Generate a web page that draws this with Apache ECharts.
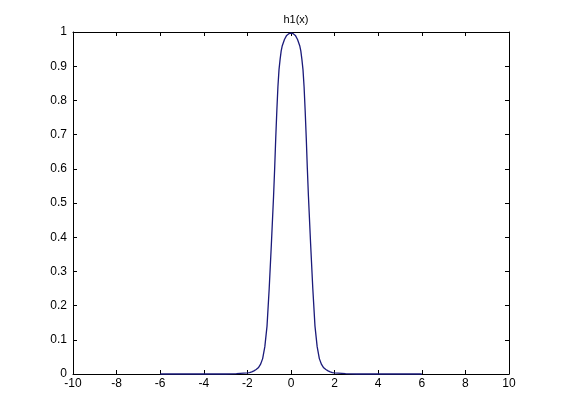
<!DOCTYPE html>
<html>
<head>
<meta charset="utf-8">
<script src="https://cdn.jsdelivr.net/npm/echarts@6/dist/echarts.min.js"></script>
<style>
  html, body { margin: 0; padding: 0; background: #fff; }
  #main { width: 561px; height: 420px; }
</style>
</head>
<body>
<div id="main"></div>
<script>
  // values
  var xs = [-6, -5, -4, -3, -2.5, -2, -1.9, -1.8, -1.7, -1.6, -1.5, -1.4, -1.3, -1.2, -1.1, -1.0,
    -0.9, -0.8, -0.75, -0.7, -0.65, -0.6, -0.55, -0.5, -0.45, -0.4, -0.3, -0.2, -0.1, 0,
    0.1, 0.2, 0.3, 0.4, 0.45, 0.5, 0.55, 0.6, 0.65, 0.7, 0.75, 0.8, 0.9, 1.0,
    1.1, 1.2, 1.3, 1.4, 1.5, 1.6, 1.7, 1.8, 1.9, 2, 2.5, 3, 4, 5, 6]
  var ys = [0, 0, 0, 0, 0.001, 0.003, 0.004, 0.006, 0.009, 0.013, 0.018, 0.028, 0.045, 0.08, 0.14, 0.25,
    0.38, 0.52, 0.60, 0.69, 0.77, 0.84, 0.89, 0.92, 0.945, 0.96, 0.978, 0.99, 0.995, 0.997,
    0.995, 0.99, 0.978, 0.96, 0.945, 0.92, 0.89, 0.84, 0.77, 0.69, 0.60, 0.52, 0.38, 0.25,
    0.14, 0.08, 0.045, 0.028, 0.018, 0.013, 0.009, 0.006, 0.004, 0.003, 0.001, 0, 0, 0, 0]
  var titleText = 'h1(x)'

  var chart = echarts.init(document.getElementById('main'))
  var data = xs.map(function (x, i) { return [x, ys[i]] })
  var font = 'Liberation Sans, Arial, sans-serif'
  var lineStyle = { color: '#000', width: 1 }

  chart.setOption({
    animation: false,
    backgroundColor: '#fff',
    title: {
      text: titleText,
      left: 291,
      textAlign: 'center',
      top: 9,
      textStyle: { fontSize: 11, fontWeight: 'normal', color: '#000', fontFamily: font }
    },
    grid: { left: 73, right: 52, top: 32, bottom: 46 },
    xAxis: [{
      type: 'value', min: -10, max: 10, interval: 2,
      axisLine: { onZero: false, lineStyle: lineStyle },
      axisTick: { inside: true, length: 4, lineStyle: lineStyle },
      axisLabel: { color: '#000', fontSize: 12, fontFamily: font, margin: 4 },
      splitLine: { show: false }
    }, {
      type: 'value', min: -10, max: 10, interval: 2, position: 'top',
      axisLine: { onZero: false, lineStyle: lineStyle },
      axisTick: { inside: true, length: 4, lineStyle: lineStyle },
      axisLabel: { show: false },
      splitLine: { show: false }
    }],
    yAxis: [{
      type: 'value', min: 0, max: 1, interval: 0.1,
      axisLine: { show: true, onZero: false, lineStyle: lineStyle },
      axisTick: { show: true, inside: true, length: 4, lineStyle: lineStyle },
      axisLabel: { color: '#000', fontSize: 12, fontFamily: font, margin: 6 },
      splitLine: { show: false }
    }, {
      type: 'value', min: 0, max: 1, interval: 0.1, position: 'right',
      axisLine: { show: true, onZero: false, lineStyle: lineStyle },
      axisTick: { show: true, inside: true, length: 4, lineStyle: lineStyle },
      axisLabel: { show: false },
      splitLine: { show: false }
    }],
    series: [{
      type: 'line',
      data: data,
      showSymbol: false,
      smooth: false,
      lineStyle: { color: '#1a1a7a', width: 1.3 },
      clip: false
    }]
  })
</script>
</body>
</html>
